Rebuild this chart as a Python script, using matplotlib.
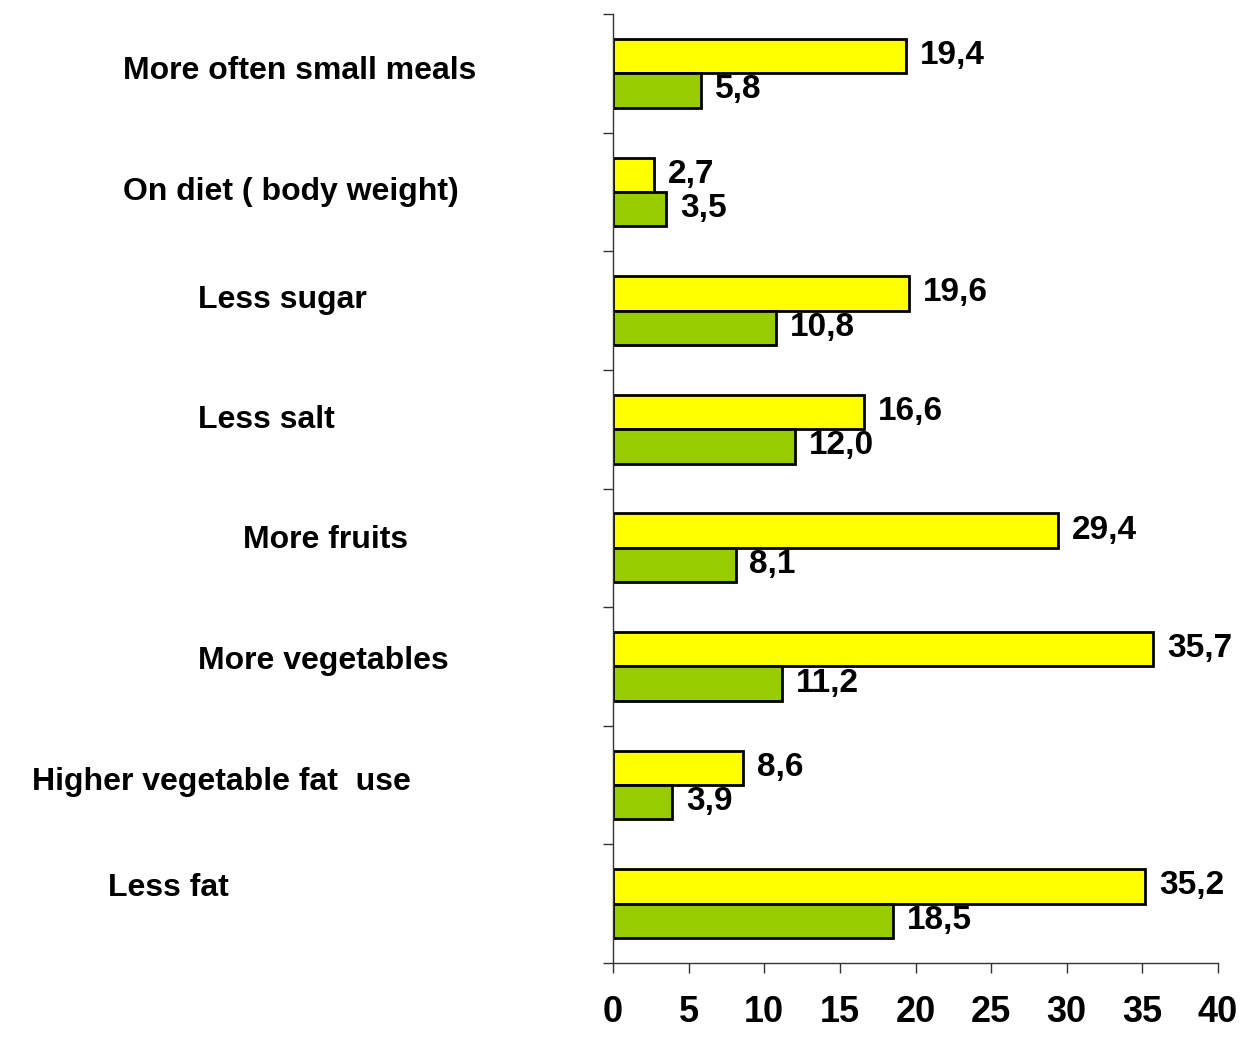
import matplotlib
matplotlib.use("Agg")
import matplotlib.pyplot as plt
import numpy as np

plt.rcParams['font.family'] = ['Liberation Sans', 'DejaVu Sans']
plt.rcParams['font.weight'] = 'bold'

categories = ["More often small meals", "On diet ( body weight)", "Less sugar",
              "Less salt", "More fruits", "More vegetables",
              "Higher vegetable fat  use", "Less fat"]
yellow_vals = [19.4, 2.7, 19.6, 16.6, 29.4, 35.7, 8.6, 35.2]
green_vals = [5.8, 3.5, 10.8, 12.0, 8.1, 11.2, 3.9, 18.5]
xticks = [0, 5, 10, 15, 20, 25, 30, 35, 40]

# label placement in figure pixels (left x, center y from top)
label_pos = [(123, 71), (123, 192), (198, 300), (198, 420),
             (243, 540), (198, 661), (32, 782), (108, 888)]

W, H = 1245, 1037
fig = plt.figure(figsize=(W / 100, H / 100), dpi=100)
ax = fig.add_axes([613 / W, (H - 963) / H, 605 / W, 949 / H])

y = np.arange(len(categories))
h = 0.29
ax.barh(y - h / 2, yellow_vals, height=h, color='#FFFF00', edgecolor='black', linewidth=2)
ax.barh(y + h / 2, green_vals, height=h, color='#99CC00', edgecolor='black', linewidth=2)

for i in range(len(categories)):
    ax.annotate(f"{yellow_vals[i]:.1f}".replace('.', ','), (yellow_vals[i], y[i] - h / 2 - 0.005),
                xytext=(10, 0), textcoords='offset points', va='center', ha='left',
                fontsize=24, fontweight='bold')
    ax.annotate(f"{green_vals[i]:.1f}".replace('.', ','), (green_vals[i], y[i] + h / 2 - 0.005),
                xytext=(10, 0), textcoords='offset points', va='center', ha='left',
                fontsize=24, fontweight='bold')

ax.set_xlim(0, 40)
ax.set_ylim(len(categories) - 0.5, -0.5)
ax.set_xticks(xticks)
ax.set_xticklabels([str(t) for t in xticks], fontsize=26, fontweight='bold')
ax.set_yticks(np.arange(-0.5, len(categories), 1.0))
ax.set_yticklabels([])
ax.tick_params(axis='x', direction='out', length=7, width=1, pad=16, color='#333333')
ax.tick_params(axis='y', direction='out', length=7, width=1, color='#333333')
for s in ['top', 'right']:
    ax.spines[s].set_visible(False)
for s in ['left', 'bottom']:
    ax.spines[s].set_color('#333333')
    ax.spines[s].set_linewidth(1)

for name, (px, py) in zip(categories, label_pos):
    fig.text(px / W, 1 - py / H, name, ha='left', va='center',
             fontsize=23, fontweight='bold')

fig.savefig('out.png', dpi=100)
